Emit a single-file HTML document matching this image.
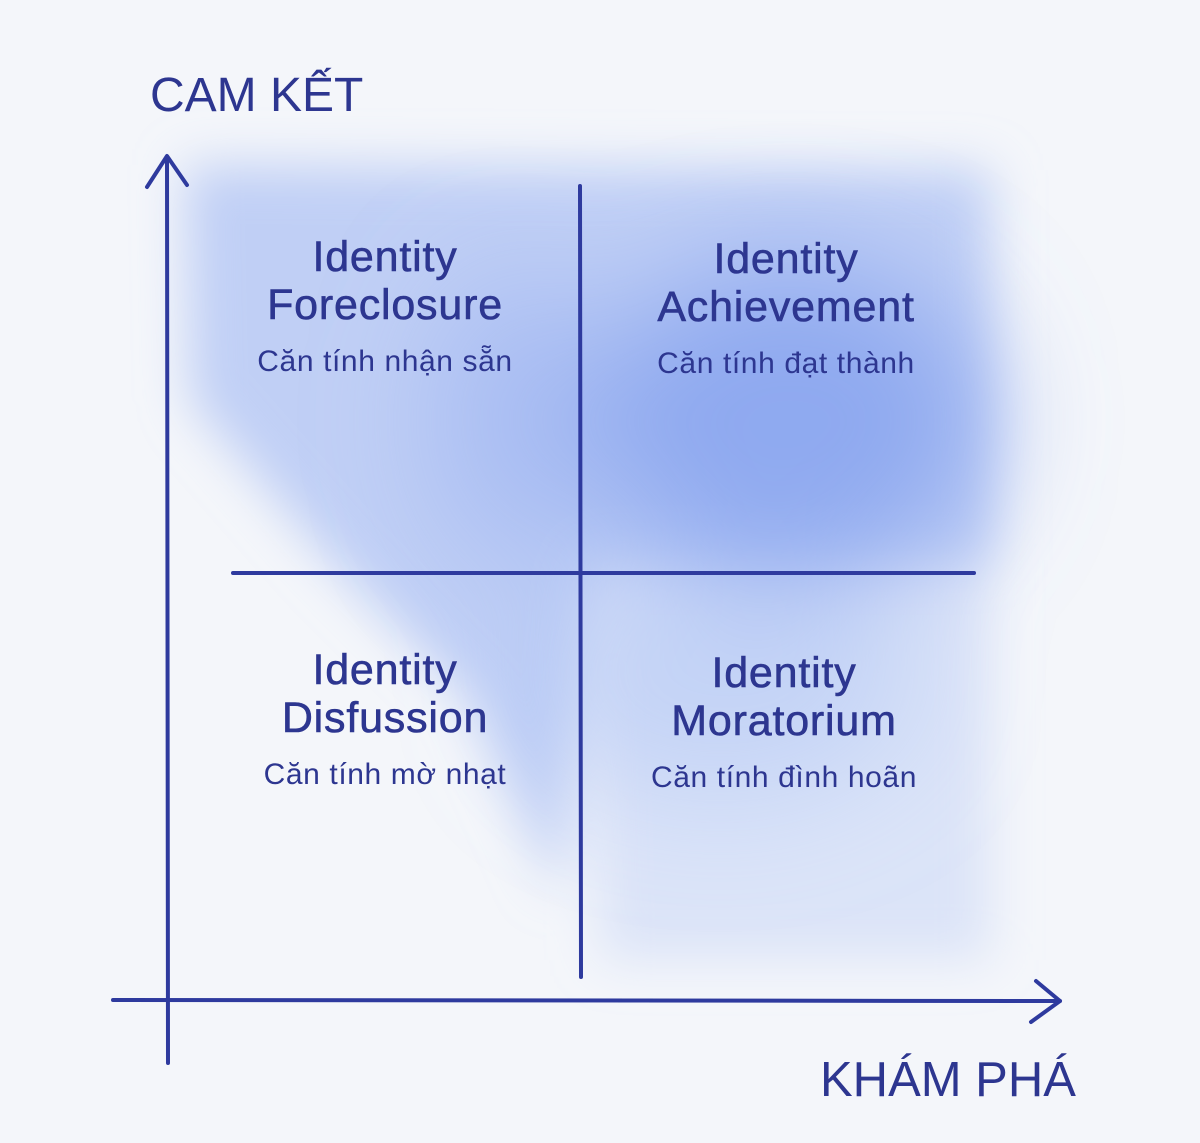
<!DOCTYPE html>
<html><head><meta charset="utf-8"><style>
html,body{margin:0;padding:0;background:#f4f6fa;}
body{width:1200px;height:1143px;position:relative;overflow:hidden;font-family:"Liberation Sans","DejaVu Sans",sans-serif;color:#2d3690;}
svg{position:absolute;left:0;top:0;}
.t{position:absolute;text-align:center;width:400px;}
.h{font-size:43px;line-height:48px;letter-spacing:0.8px;-webkit-text-stroke:0.6px #2d3690;}
.s{font-size:30px;line-height:34px;margin-top:16px;letter-spacing:0.6px;}
</style></head><body>
<svg width="1200" height="1143" viewBox="0 0 1200 1143">
<defs>
<filter id="b" x="-20%" y="-20%" width="140%" height="140%"><feGaussianBlur stdDeviation="25"/></filter>
<filter id="b2" x="-30%" y="-30%" width="160%" height="160%"><feGaussianBlur stdDeviation="60"/></filter>
</defs>
<g filter="url(#b)">
<polygon points="185,165 990,170 995,560 590,560 560,900 470,700 330,560 190,400" fill="#a9bff3" opacity="0.7"/>
<polygon points="590,560 990,560 990,960 600,960" fill="#b6c8f5" opacity="0.4"/>
</g>
<g filter="url(#b2)">
<ellipse cx="790" cy="420" rx="200" ry="160" fill="#7d9cee" opacity="0.75"/>
<ellipse cx="520" cy="420" rx="90" ry="150" fill="#8ea9ef" opacity="0.45"/>
<ellipse cx="720" cy="680" rx="200" ry="120" fill="#a9bef3" opacity="0.45"/>
</g>
<g stroke="#2e3a9e" stroke-width="4" fill="none" stroke-linecap="round" stroke-linejoin="round">
<path d="M167,157 L168,1063"/>
<path d="M147,187 L167,156 L187,185"/>
<path d="M113,1000 L1060,1001"/>
<path d="M1036,981 L1060,1001 L1031,1022"/>
<path d="M580,186 L581,977"/>
<path d="M233,573 L974,573"/>
</g>
</svg>
<div style="position:absolute;left:150px;top:68px;font-size:48px;">CAM KẾT</div>
<div style="position:absolute;left:820px;top:1052px;font-size:49px;">KHÁM PHÁ</div>
<div class="t" style="left:185px;top:233px;"><div class="h">Identity<br>Foreclosure</div><div class="s">Căn tính nhận sẵn</div></div>
<div class="t" style="left:586px;top:235px;"><div class="h">Identity<br>Achievement</div><div class="s">Căn tính đạt thành</div></div>
<div class="t" style="left:185px;top:646px;"><div class="h">Identity<br>Disfussion</div><div class="s">Căn tính mờ nhạt</div></div>
<div class="t" style="left:584px;top:649px;"><div class="h">Identity<br>Moratorium</div><div class="s">Căn tính đình hoãn</div></div>
</body></html>
